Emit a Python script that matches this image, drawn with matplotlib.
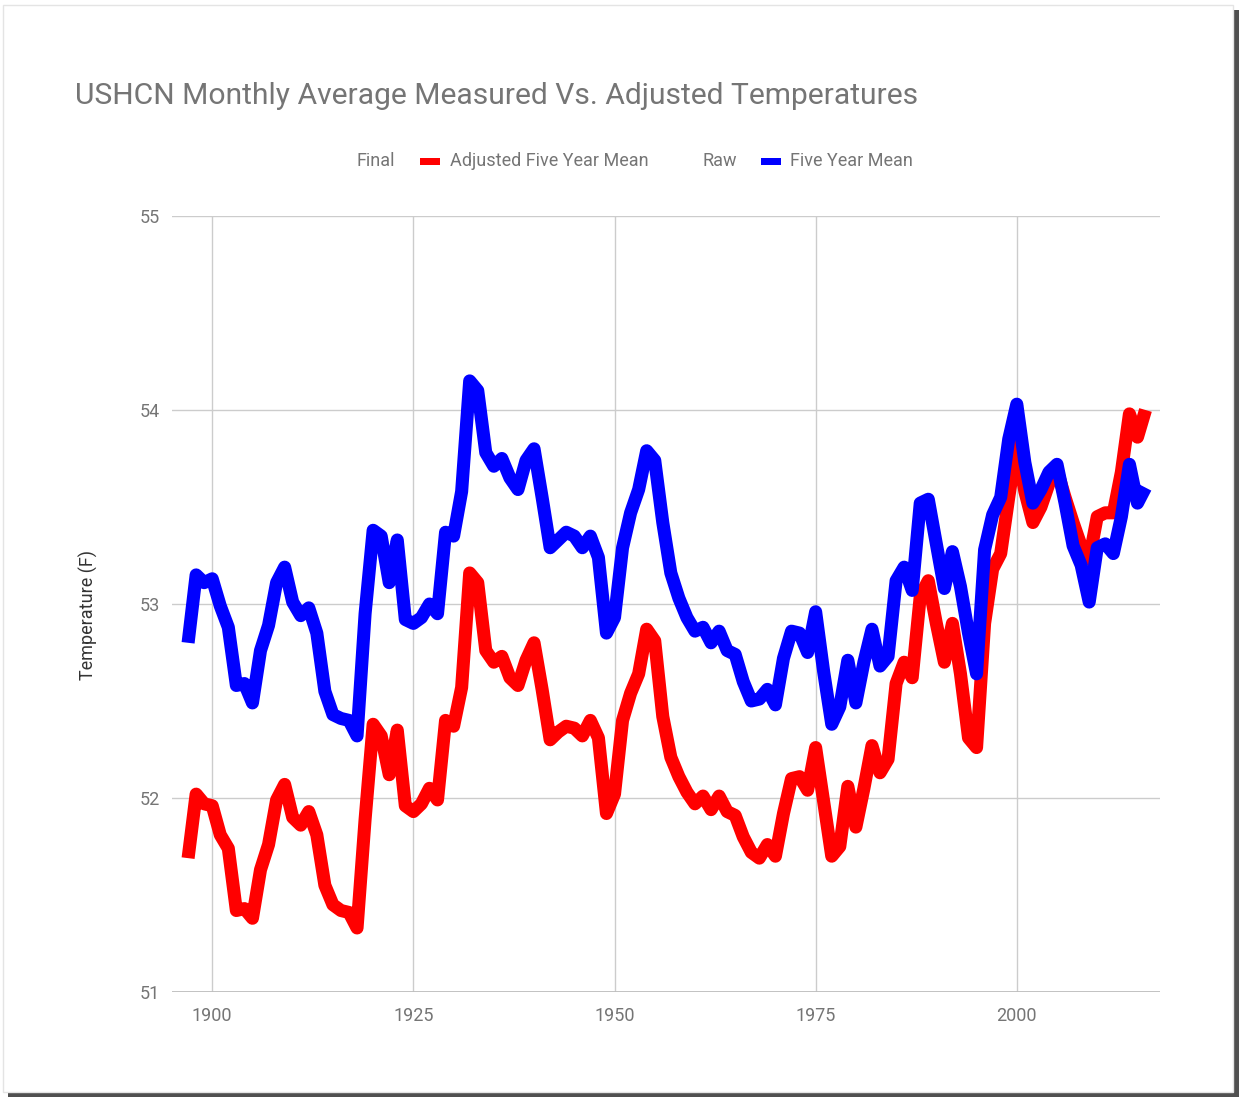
import numpy as np
import matplotlib
matplotlib.use("Agg")
import matplotlib.pyplot as plt
from matplotlib.patches import Rectangle

plt.rcParams['font.family'] = ['Roboto', 'DejaVu Sans']

# yearly five year means, 1897-2016
years = np.arange(1897, 2017)

adjusted = [51.69, 52.02, 51.97,
            51.96, 51.81, 51.74, 51.42, 51.43, 51.38, 51.63, 51.76, 51.99, 52.07,
            51.90, 51.86, 51.93, 51.81, 51.55, 51.45, 51.42, 51.41, 51.33, 51.89,
            52.38, 52.32, 52.12, 52.35, 51.96, 51.93, 51.97, 52.05, 51.99, 52.40,
            52.37, 52.57, 53.16, 53.11, 52.76, 52.70, 52.73, 52.62, 52.58, 52.71,
            52.80, 52.56, 52.30, 52.34, 52.37, 52.36, 52.32, 52.40, 52.31, 51.92,
            52.02, 52.40, 52.54, 52.64, 52.87, 52.81, 52.42, 52.21, 52.11, 52.03,
            51.97, 52.01, 51.94, 52.01, 51.93, 51.91, 51.80, 51.72, 51.69, 51.76,
            51.70, 51.92, 52.10, 52.11, 52.04, 52.26, 51.98, 51.70, 51.75, 52.06,
            51.85, 52.05, 52.27, 52.13, 52.20, 52.59, 52.70, 52.62, 53.04, 53.12,
            52.90, 52.70, 52.90, 52.64, 52.31, 52.26, 52.90, 53.18, 53.26, 53.55,
            53.82, 53.58, 53.42, 53.50, 53.62, 53.69, 53.55, 53.42, 53.30, 53.23,
            53.45, 53.47, 53.47, 53.68, 53.98, 53.86, 54.00]

raw = [52.80, 53.15, 53.11,
       53.13, 52.99, 52.88, 52.58, 52.59, 52.49, 52.76, 52.89, 53.11, 53.19,
       53.01, 52.94, 52.98, 52.85, 52.55, 52.43, 52.41, 52.40, 52.32, 52.95,
       53.38, 53.35, 53.11, 53.33, 52.92, 52.90, 52.93, 53.00, 52.95, 53.37,
       53.35, 53.58, 54.15, 54.10, 53.78, 53.71, 53.75, 53.65, 53.59, 53.74,
       53.80, 53.55, 53.29, 53.33, 53.37, 53.35, 53.29, 53.35, 53.24, 52.85,
       52.93, 53.29, 53.47, 53.59, 53.79, 53.74, 53.42, 53.16, 53.03, 52.93,
       52.86, 52.88, 52.80, 52.86, 52.76, 52.74, 52.60, 52.50, 52.51, 52.56,
       52.48, 52.72, 52.86, 52.85, 52.75, 52.96, 52.65, 52.38, 52.47, 52.71,
       52.49, 52.70, 52.87, 52.68, 52.73, 53.12, 53.19, 53.07, 53.52, 53.54,
       53.31, 53.08, 53.27, 53.09, 52.85, 52.64, 53.28, 53.46, 53.55, 53.85,
       54.03, 53.73, 53.52, 53.59, 53.68, 53.72, 53.52, 53.30, 53.20, 53.01,
       53.29, 53.31, 53.26, 53.45, 53.72, 53.52, 53.60]

x_ticks = [1900, 1925, 1950, 1975, 2000]
y_ticks = [51, 52, 53, 54, 55]

W, H = 1239, 1097
fig = plt.figure(figsize=(W / 100, H / 100), dpi=100)
fig.patch.set_facecolor('white')

# card with a dark shadow at right / bottom
fig.add_artist(Rectangle((8 / W, 0), 1 - 8 / W, 1 - 10 / H, transform=fig.transFigure,
                         facecolor='#505050', edgecolor='none', zorder=-2))
fig.add_artist(Rectangle((3 / W, 5 / H), 1230 / W, 1087 / H, transform=fig.transFigure,
                         facecolor='white', edgecolor='#e4e4e4', lw=1, zorder=-1))

ax = fig.add_axes([172 / W, 1 - 992 / H, (1160 - 172) / W, (992 - 216) / H])
ax.set_facecolor('none')

ax.plot(years, adjusted, color='#ff0000', lw=9.4, solid_joinstyle='round',
        solid_capstyle='butt', zorder=3)
ax.plot(years, raw, color='#0000ff', lw=9.4, solid_joinstyle='round',
        solid_capstyle='butt', zorder=4)

ax.set_xlim(1895, 2017.8)
ax.set_ylim(51, 55)
ax.set_xticks(x_ticks)
ax.set_yticks(y_ticks)
ax.grid(True, color='#cccccc', lw=1)
ax.axhline(51, color='#bdbdbd', lw=2, zorder=2)
for s in ax.spines.values():
    s.set_visible(False)
ax.tick_params(length=0, labelsize=13, labelcolor='#757575')
ax.tick_params(axis='y', pad=9)
ax.tick_params(axis='x', pad=11)

fig.text(88 / W, 1 - 615 / H, 'Temperature (F)', rotation=90, ha='center', va='center',
         fontsize=13, color='#333333')

fig.text(75 / W, 1 - 96 / H, 'USHCN Monthly Average Measured Vs. Adjusted Temperatures',
         ha='left', va='center', fontsize=21.6, color='#757575')

# legend row
ly = 1 - 161 / H
fig.text(356 / W, ly, 'Final', ha='left', va='center', fontsize=13, color='#757575')
fig.add_artist(Rectangle((420 / W, ly - 3.5 / H), 20 / W, 7 / H, transform=fig.transFigure,
                         facecolor='#ff0000', edgecolor='none'))
fig.text(450 / W, ly, 'Adjusted Five Year Mean', ha='left', va='center', fontsize=13,
         color='#757575')
fig.text(702 / W, ly, 'Raw', ha='left', va='center', fontsize=13, color='#757575')
fig.add_artist(Rectangle((761 / W, ly - 3.5 / H), 20 / W, 7 / H, transform=fig.transFigure,
                         facecolor='#0000ff', edgecolor='none'))
fig.text(790 / W, ly, 'Five Year Mean', ha='left', va='center', fontsize=13,
         color='#757575')

fig.savefig('out.png', dpi=100, facecolor=fig.get_facecolor())
